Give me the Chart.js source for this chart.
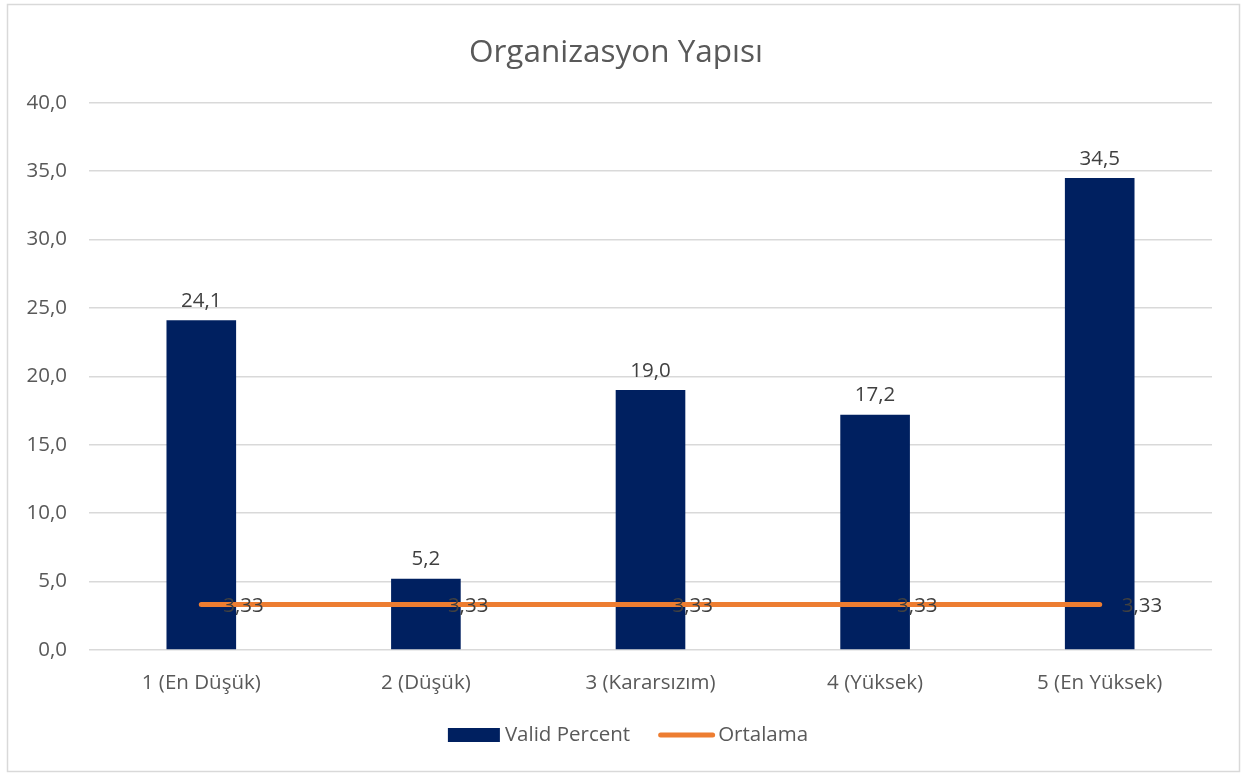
<!DOCTYPE html>
<html>
<head>
<meta charset="utf-8">
<script src="https://cdn.jsdelivr.net/npm/chart.js@4"></script>
<style>
html,body{margin:0;padding:0;background:#fff;}
#wrap{position:absolute;left:0;top:0;width:1244px;height:774px;}
</style>
</head>
<body>
<div id="wrap"><canvas id="c" width="1244" height="774"></canvas></div>
<script>
const categories = ["1 (En Düşük)", "2 (Düşük)", "3 (Kararsızım)", "4 (Yüksek)", "5 (En Yüksek)"];
const validPercent = [24.1, 5.2, 19.0, 17.2, 34.5];
const ortalama = [3.33, 3.33, 3.33, 3.33, 3.33];
const yTicks = [0, 5, 10, 15, 20, 25, 30, 35, 40];
const seriesNames = ["Valid Percent", "Ortalama"];
const titleText = "Organizasyon Yapısı";

const FONT = "'Open Sans', 'DejaVu Sans', sans-serif";
const FS = 20.5;
const TEXT = "#595959";
const NAVY = "#002060";
const ORANGE = "#ED7D31";

const fmt = (v, d) => v.toFixed(d).replace('.', ',');

const frame = {
  id: 'frame',
  beforeDraw(chart) {
    const ctx = chart.ctx;
    ctx.save();
    ctx.fillStyle = '#fff';
    ctx.fillRect(0, 0, chart.width, chart.height);
    ctx.strokeStyle = '#d9d9d9';
    ctx.lineWidth = 1.5;
    ctx.strokeRect(7.5, 4.5, 1232, 767);
    ctx.restore();
  }
};

const labelsPlugin = {
  id: 'valueLabels',
  afterDatasetsDraw(chart) {
    const ctx = chart.ctx;
    ctx.save();
    ctx.font = FS + "px " + FONT;
    const m0 = chart.getDatasetMeta(0);
    ctx.fillStyle = "#404040";
    ctx.textAlign = 'center';
    ctx.textBaseline = 'bottom';
    m0.data.forEach((el, i) => {
      ctx.fillText(fmt(chart.data.datasets[0].data[i], 1), el.x, el.y - 9);
    });
    const m1 = chart.getDatasetMeta(1);
    ctx.textAlign = 'left';
    ctx.textBaseline = 'middle';
    m1.data.forEach((el, i) => {
      ctx.fillText(fmt(chart.data.datasets[1].data[i], 2), el.x + 22, el.y + 2);
    });
    ctx.restore();
  }
};

const legendPlugin = {
  id: 'customLegend',
  afterDraw(chart) {
    const ctx = chart.ctx;
    ctx.save();
    ctx.font = FS + "px " + FONT;
    const ds = chart.data.datasets;
    const w1 = ctx.measureText(ds[0].label).width;
    const w2 = ctx.measureText(ds[1].label).width;
    const boxW = 52, lineW = 57, gap1 = 5, gap2 = 3, spacing = 28;
    const total = boxW + gap1 + w1 + spacing + lineW + gap2 + w2;
    let x = 628 - total / 2;
    const y = 735;
    ctx.fillStyle = NAVY;
    ctx.fillRect(x, y - 7, boxW, 14);
    x += boxW + gap1;
    ctx.fillStyle = TEXT;
    ctx.textAlign = 'left';
    ctx.textBaseline = 'middle';
    ctx.fillText(ds[0].label, x, y);
    x += w1 + spacing;
    ctx.strokeStyle = ORANGE;
    ctx.lineWidth = 5;
    ctx.lineCap = 'round';
    ctx.beginPath();
    ctx.moveTo(x + 2.5, y);
    ctx.lineTo(x + lineW - 2.5, y);
    ctx.stroke();
    x += lineW + gap2;
    ctx.fillText(ds[1].label, x, y);
    ctx.restore();
  }
};

new Chart(document.getElementById('c'), {
  type: 'bar',
  data: {
    labels: categories,
    datasets: [
      {
        type: 'bar',
        label: seriesNames[0],
        data: validPercent,
        backgroundColor: NAVY,
        borderWidth: 0,
        categoryPercentage: 1.0,
        barPercentage: 0.31,
        order: 2
      },
      {
        type: 'line',
        label: seriesNames[1],
        data: ortalama,
        borderColor: ORANGE,
        backgroundColor: ORANGE,
        borderWidth: 5,
        borderCapStyle: 'round',
        pointRadius: 0,
        fill: false,
        order: 1
      }
    ]
  },
  options: {
    responsive: false,
    animation: false,
    devicePixelRatio: 1,
    layout: { padding: { left: 20, right: 32, top: 0, bottom: 59 } },
    plugins: {
      title: {
        display: true,
        text: titleText,
        color: TEXT,
        font: { family: FONT, size: 31.5, weight: 'normal' },
        padding: { top: 34, bottom: 31 }
      },
      legend: { display: false },
      tooltip: { enabled: false }
    },
    scales: {
      x: {
        grid: { display: false, drawTicks: false },
        border: { display: false },
        ticks: { color: TEXT, font: { family: FONT, size: FS }, padding: 21 },
        afterFit(s) { s.height = 65; }
      },
      y: {
        min: 0,
        max: 40,
        afterBuildTicks(s) { s.ticks = yTicks.map(v => ({ value: v })); },
        grid: { color: '#d9d9d9', lineWidth: 1.5, drawTicks: false },
        border: { display: false },
        ticks: {
          color: TEXT,
          font: { family: FONT, size: FS },
          padding: 22,
          callback: v => fmt(v, 1)
        },
        afterFit(s) { s.width = 69; }
      }
    }
  },
  plugins: [frame, labelsPlugin, legendPlugin]
});
</script>
</body>
</html>
